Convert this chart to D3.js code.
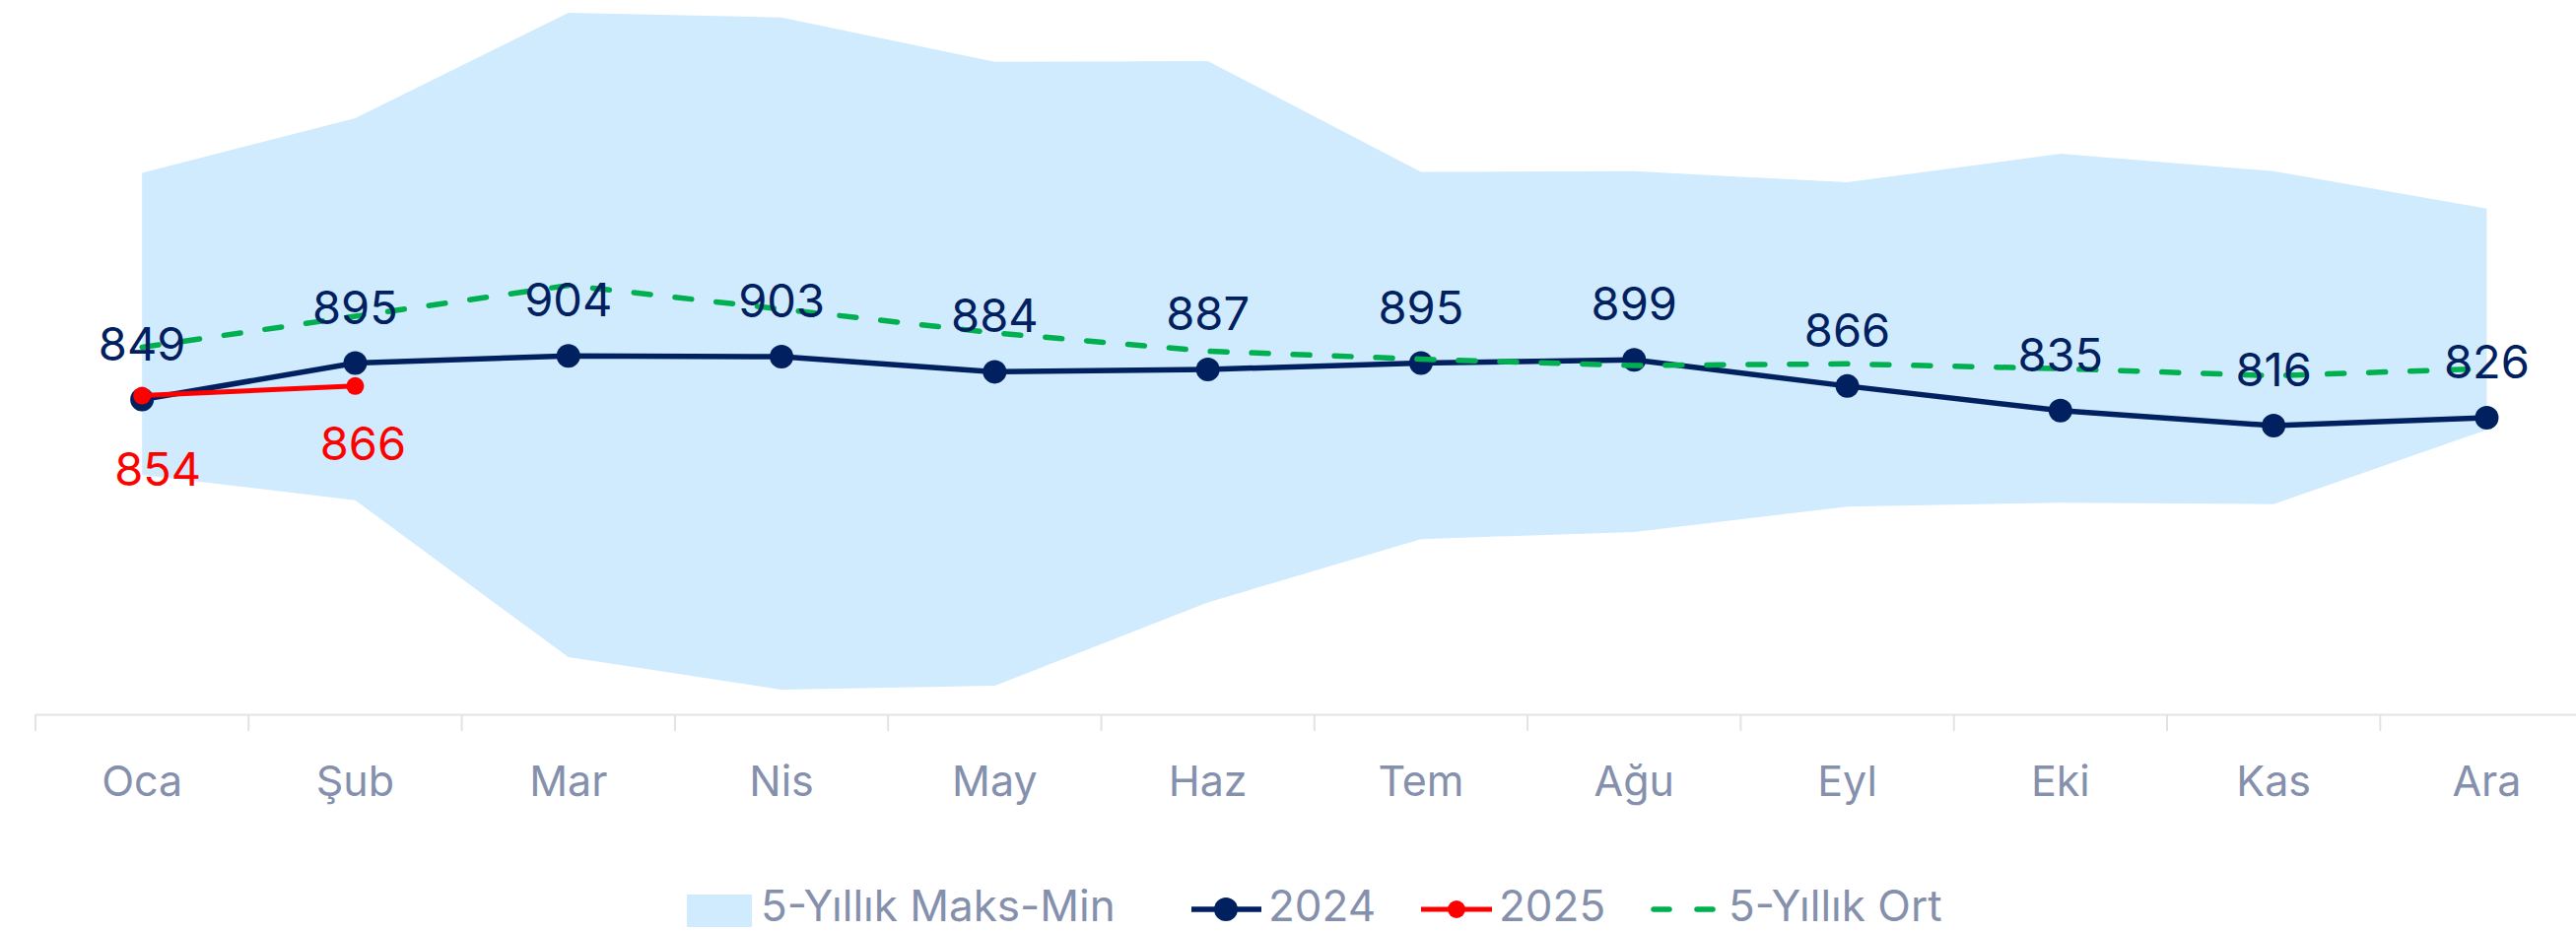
<!DOCTYPE html>
<html>
<head>
<meta charset="utf-8">
<script src="https://cdn.jsdelivr.net/npm/d3@7"></script>
<style>
  body { margin: 0; background: #fff; }
  svg { display: block; font-family: Inter, "Noto Sans", sans-serif; }
</style>
</head>
<body>
<div id="vis"></div>
<script>
const months = ["Oca", "Şub", "Mar", "Nis", "May", "Haz", "Tem", "Ağu", "Eyl", "Eki", "Kas", "Ara"];
const values2024 = [849, 895, 904, 903, 884, 887, 895, 899, 866, 835, 816, 826];
const values2025 = [854, 866];
const avg5 = [915, 954, 993, 963, 933, 910, 900, 892, 894, 888, 879, 888];
const max5 = [1135, 1204, 1337, 1331, 1275, 1276, 1136, 1137, 1123, 1159, 1137, 1090];
const min5 = [754, 722, 524, 483, 488, 593, 673, 682, 714, 719, 717, 811];
const legendLabels = ["5-Yıllık Maks-Min", "2024", "2025", "5-Yıllık Ort"];

const W = 2614, H = 945;
const navy = "#002060", red = "#ff0000", green = "#00b050", band = "#d0ebfd";
const grey = "#8590ad";

const svg = d3.select("#vis")
  .append("svg")
  .attr("width", W)
  .attr("height", H);

svg.append("rect").attr("width", W).attr("height", H).attr("fill", "#fff");

const x = d3.scaleBand()
  .domain(months)
  .range([36, 36 + 12 * 216.3]);
const cx = m => x(m) + x.bandwidth() / 2;

const y = d3.scaleLinear()
  .domain([452, 1353])
  .range([725, 0]);

const rows = months.map((m, i) => ({ m, v: values2024[i], avg: avg5[i], hi: max5[i], lo: min5[i] }));
const rows25 = values2025.map((v, i) => ({ m: months[i], v }));

// 5 year max-min band
svg.append("path")
  .datum(rows)
  .attr("fill", band)
  .attr("d", d3.area()
    .x(d => cx(d.m))
    .y0(d => y(d.lo))
    .y1(d => y(d.hi)));

// x axis
const axis = svg.append("g")
  .attr("transform", "translate(0,725)")
  .call(d3.axisBottom(x).tickSize(0).tickSizeOuter(0).tickPadding(52));
axis.select(".domain").attr("stroke", "#e3e3e3").attr("stroke-width", 2);
axis.selectAll("text")
  .attr("fill", grey)
  .attr("font-size", "43px")
  .attr("font-family", "Inter, sans-serif");

svg.append("g")
  .selectAll("line")
  .data(months)
  .join("line")
  .attr("x1", d => x(d))
  .attr("x2", d => x(d))
  .attr("y1", 725)
  .attr("y2", 742)
  .attr("stroke", "#e3e3e3")
  .attr("stroke-width", 2);

// 2024
svg.append("path")
  .datum(rows)
  .attr("fill", "none")
  .attr("stroke", navy)
  .attr("stroke-width", 5.5)
  .attr("stroke-linejoin", "round")
  .attr("d", d3.line().x(d => cx(d.m)).y(d => y(d.v)));
svg.append("g")
  .selectAll("circle")
  .data(rows)
  .join("circle")
  .attr("cx", d => cx(d.m))
  .attr("cy", d => y(d.v))
  .attr("r", 12)
  .attr("fill", navy);

// 2025
svg.append("path")
  .datum(rows25)
  .attr("fill", "none")
  .attr("stroke", red)
  .attr("stroke-width", 5)
  .attr("d", d3.line().x(d => cx(d.m)).y(d => y(d.v)));
svg.append("g")
  .selectAll("circle")
  .data(rows25)
  .join("circle")
  .attr("cx", d => cx(d.m))
  .attr("cy", d => y(d.v))
  .attr("r", 9)
  .attr("fill", red);

// 5 year average
svg.append("path")
  .datum(rows)
  .attr("fill", "none")
  .attr("stroke", green)
  .attr("stroke-width", 5.5)
  .attr("stroke-linecap", "round")
  .attr("stroke-dasharray", "17,25")
  .attr("d", d3.line().x(d => cx(d.m)).y(d => y(d.avg)));

// labels
svg.append("g")
  .selectAll("text")
  .data(rows)
  .join("text")
  .attr("x", d => cx(d.m))
  .attr("y", d => y(d.v) - 40)
  .attr("text-anchor", "middle")
  .attr("font-size", "47px")
  .attr("fill", navy)
  .text(d => d.v);

const redOffsets = [[16, 91], [8, 75]];
svg.append("g")
  .selectAll("text")
  .data(rows25)
  .join("text")
  .attr("x", (d, i) => cx(d.m) + redOffsets[i][0])
  .attr("y", (d, i) => y(d.v) + redOffsets[i][1])
  .attr("text-anchor", "middle")
  .attr("font-size", "47px")
  .attr("fill", red)
  .text(d => d.v);

// legend
const lg = svg.append("g").attr("font-size", "44px").attr("fill", grey);
const ly = 923, tb = 935;
lg.append("rect").attr("x", 697).attr("y", 908).attr("width", 66).attr("height", 33).attr("fill", band);
lg.append("text").attr("x", 772).attr("y", tb).text(legendLabels[0]);

lg.append("line").attr("x1", 1209).attr("x2", 1280).attr("y1", ly).attr("y2", ly)
  .attr("stroke", navy).attr("stroke-width", 5.5);
lg.append("circle").attr("cx", 1244).attr("cy", ly).attr("r", 12).attr("fill", navy);
lg.append("text").attr("x", 1287).attr("y", tb).text(legendLabels[1]);

lg.append("line").attr("x1", 1442).attr("x2", 1514).attr("y1", ly).attr("y2", ly)
  .attr("stroke", red).attr("stroke-width", 5);
lg.append("circle").attr("cx", 1478).attr("cy", ly).attr("r", 9).attr("fill", red);
lg.append("text").attr("x", 1521).attr("y", tb).text(legendLabels[2]);

lg.append("line").attr("x1", 1678).attr("x2", 1742).attr("y1", ly).attr("y2", ly)
  .attr("stroke", green).attr("stroke-width", 5.5).attr("stroke-linecap", "round")
  .attr("stroke-dasharray", "16,28");
lg.append("text").attr("x", 1754).attr("y", tb).text(legendLabels[3]);
</script>
</body>
</html>
